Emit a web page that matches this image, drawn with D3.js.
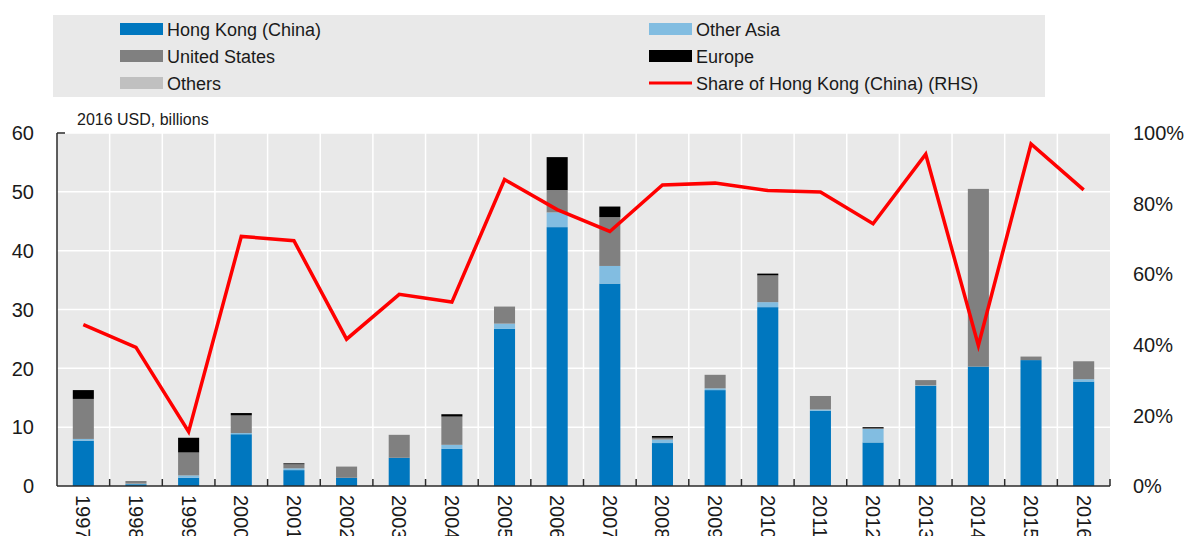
<!DOCTYPE html>
<html>
<head>
<meta charset="utf-8">
<script src="https://cdn.jsdelivr.net/npm/d3@7"></script>
<style>
  html, body { margin: 0; padding: 0; background: #fff; }
  svg { display: block; font-family: "Liberation Sans", Arial, sans-serif; }
</style>
</head>
<body>
<div id="chart"></div>
<script>
const years = ['1997', '1998', '1999', '2000', '2001', '2002', '2003', '2004', '2005', '2006',
  '2007', '2008', '2009', '2010', '2011', '2012', '2013', '2014', '2015', '2016'];

// 2016 USD, billions
const hongKong = [7.7, 0.3, 1.4, 8.8, 2.7, 1.4, 4.8, 6.3, 26.7, 44.0,
  34.4, 7.3, 16.3, 30.4, 12.8, 7.4, 17.0, 20.3, 21.4, 17.75];
const otherAsia = [0.3, 0.1, 0.4, 0.2, 0.3, 0.0, 0.0, 0.7, 0.9, 2.5,
  3.0, 0.6, 0.3, 0.85, 0.2, 2.3, 0.1, 0.0, 0.0, 0.4];
const unitedStates = [6.8, 0.45, 3.9, 3.0, 0.7, 1.9, 3.9, 4.8, 2.9, 3.8,
  8.3, 0.3, 2.3, 4.55, 2.3, 0.1, 0.9, 30.2, 0.6, 3.05];
const europe = [1.5, 0.0, 2.5, 0.4, 0.15, 0.0, 0.0, 0.4, 0.0, 5.6,
  1.8, 0.3, 0.0, 0.3, 0.0, 0.2, 0.0, 0.0, 0.0, 0.0];
const others = [0, 0, 0, 0, 0, 0, 0, 0, 0, 0,
  0, 0, 0, 0, 0, 0, 0, 0, 0, 0];
// share of Hong Kong (China), %
const shareHK = [45.7, 39.3, 15.4, 70.7, 69.5, 41.6, 54.3, 52.1, 86.8, 78.3,
  72.1, 85.3, 85.8, 83.7, 83.3, 74.3, 94.0, 39.8, 96.9, 83.9];

const leftTicks = [0, 10, 20, 30, 40, 50, 60];
const rightTicks = [0, 20, 40, 60, 80, 100];

const seriesNames = ['Hong Kong (China)', 'Other Asia', 'United States', 'Europe', 'Others'];
const seriesValues = [hongKong, otherAsia, unitedStates, europe, others];
const colors = ['#0077bf', '#82bde1', '#808080', '#000000', '#c0c0c0'];

const width = 1184;
const height = 536;
const plotLeft = 57, plotRight = 1110, plotTop = 133, plotBottom = 486;

const svg = d3.select('#chart').append('svg')
  .attr('width', width)
  .attr('height', height);

// legend
svg.append('rect')
  .attr('x', 53).attr('y', 15)
  .attr('width', 992).attr('height', 82)
  .attr('fill', '#e9e9e9');

const legendItems = [
  {name: seriesNames[0], color: colors[0], col: 0, row: 0},
  {name: seriesNames[2], color: colors[2], col: 0, row: 1},
  {name: seriesNames[4], color: colors[4], col: 0, row: 2},
  {name: seriesNames[1], color: colors[1], col: 1, row: 0},
  {name: seriesNames[3], color: colors[3], col: 1, row: 1},
  {name: 'Share of Hong Kong (China) (RHS)', color: '#ff0000', col: 1, row: 2, line: true}
];
const colX = [120, 649];
const rowY = [29, 56, 83];

const lg = svg.selectAll('.legend')
  .data(legendItems)
  .enter().append('g')
  .attr('class', 'legend')
  .attr('transform', d => `translate(${colX[d.col]},${rowY[d.row]})`);

lg.append('rect')
  .attr('x', 0)
  .attr('y', d => d.line ? -1.5 : -6)
  .attr('width', 43)
  .attr('height', d => d.line ? 3 : 12)
  .attr('fill', d => d.color);

lg.append('text')
  .attr('x', 47)
  .attr('y', 6.5)
  .attr('font-size', '18px')
  .attr('fill', '#1a1a1a')
  .text(d => d.name);

// scales
const x = d3.scaleBand()
  .domain(years)
  .range([plotLeft, plotRight])
  .paddingInner(0.6)
  .paddingOuter(0.3);

const y = d3.scaleLinear().domain([0, 60]).range([plotBottom, plotTop]);
const y2 = d3.scaleLinear().domain([0, 100]).range([plotBottom, plotTop]);

// plot background
svg.append('rect')
  .attr('x', plotLeft).attr('y', plotTop)
  .attr('width', plotRight - plotLeft).attr('height', plotBottom - plotTop)
  .attr('fill', '#e9e9e9');

// grid
const step = x.step();
const bounds = d3.range(1, years.length).map(i => plotLeft + i * step);

svg.append('g').selectAll('line')
  .data(leftTicks.slice(1))
  .enter().append('line')
  .attr('x1', plotLeft).attr('x2', plotRight)
  .attr('y1', d => y(d)).attr('y2', d => y(d))
  .attr('stroke', '#fff')
  .attr('stroke-width', 1.5);

svg.append('g').selectAll('line')
  .data(bounds)
  .enter().append('line')
  .attr('x1', d => d).attr('x2', d => d)
  .attr('y1', plotTop).attr('y2', plotBottom)
  .attr('stroke', '#fff')
  .attr('stroke-width', 1.5);

// stacked bars
const table = years.map((yr, i) => {
  const row = {year: yr};
  seriesNames.forEach((s, k) => { row[s] = seriesValues[k][i]; });
  return row;
});

const stack = d3.stack().keys(seriesNames)(table);

svg.append('g').selectAll('g')
  .data(stack)
  .enter().append('g')
  .attr('fill', (d, i) => colors[i])
  .selectAll('rect')
  .data(d => d)
  .enter().append('rect')
  .attr('x', d => x(d.data.year))
  .attr('width', x.bandwidth())
  .attr('y', d => y(d[1]))
  .attr('height', d => Math.max(0, y(d[0]) - y(d[1])));

// share line
const line = d3.line()
  .x((d, i) => x(years[i]) + x.bandwidth() / 2)
  .y(d => y2(d));

svg.append('path')
  .datum(shareHK)
  .attr('d', line)
  .attr('fill', 'none')
  .attr('stroke', '#ff0000')
  .attr('stroke-width', 3.5)
  .attr('stroke-linejoin', 'miter');

// axes
const axisColor = '#2a2a2a';
svg.append('line')
  .attr('x1', plotLeft).attr('x2', plotLeft)
  .attr('y1', plotTop).attr('y2', plotBottom)
  .attr('stroke', axisColor).attr('stroke-width', 1.5);
svg.append('line')
  .attr('x1', plotLeft).attr('x2', plotLeft + 8)
  .attr('y1', plotTop).attr('y2', plotTop)
  .attr('stroke', axisColor).attr('stroke-width', 1.5);
svg.append('line')
  .attr('x1', plotLeft).attr('x2', plotRight)
  .attr('y1', plotBottom).attr('y2', plotBottom)
  .attr('stroke', axisColor).attr('stroke-width', 1.5);

svg.append('g').selectAll('line')
  .data(bounds.concat([plotRight]))
  .enter().append('line')
  .attr('x1', d => d).attr('x2', d => d)
  .attr('y1', plotBottom - 7).attr('y2', plotBottom)
  .attr('stroke', axisColor).attr('stroke-width', 1.5);

// left tick labels
svg.append('g').selectAll('text')
  .data(leftTicks)
  .enter().append('text')
  .attr('x', 34)
  .attr('y', d => y(d))
  .attr('dy', '0.36em')
  .attr('text-anchor', 'end')
  .attr('font-size', '20px')
  .attr('fill', '#1a1a1a')
  .text(d => d);

// right tick labels
svg.append('g').selectAll('text')
  .data(rightTicks)
  .enter().append('text')
  .attr('x', 1133)
  .attr('y', d => y2(d))
  .attr('dy', '0.36em')
  .attr('text-anchor', 'start')
  .attr('font-size', '20px')
  .attr('fill', '#1a1a1a')
  .text(d => d + '%');

// year labels
svg.append('g').selectAll('text')
  .data(years)
  .enter().append('text')
  .attr('transform', d => `translate(${x(d) + x.bandwidth() / 2},495) rotate(90)`)
  .attr('dy', '0.35em')
  .attr('text-anchor', 'start')
  .attr('font-size', '20px')
  .attr('fill', '#1a1a1a')
  .text(d => d);

// unit label
svg.append('text')
  .attr('x', 77)
  .attr('y', 125)
  .attr('font-size', '16px')
  .attr('fill', '#1a1a1a')
  .text('2016 USD, billions');
</script>
</body>
</html>
